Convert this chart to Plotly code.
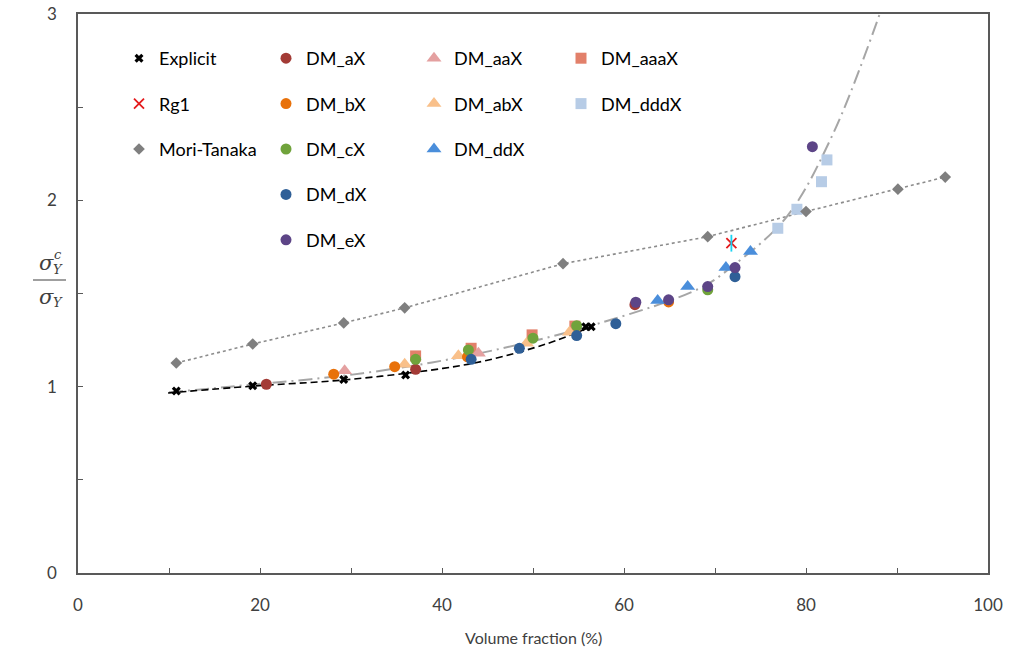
import plotly.graph_objects as go

# ---------------- data ----------------
explicit_x = [10.8, 19.2, 29.2, 36.0, 55.8, 56.4]
explicit_y = [0.977, 1.005, 1.038, 1.063, 1.322, 1.322]

rg1_x = [71.8]
rg1_y = [1.77]

mt_x = [10.8, 19.2, 29.2, 35.9, 53.3, 69.2, 80.0, 90.1, 95.3]
mt_y = [1.127, 1.229, 1.342, 1.423, 1.66, 1.805, 1.94, 2.06, 2.125]

dm_ax_x = [20.7, 37.1, 61.2]
dm_ax_y = [1.013, 1.093, 1.44]
dm_bx_x = [28.1, 34.8, 42.8, 64.9]
dm_bx_y = [1.067, 1.107, 1.16, 1.455]
dm_cx_x = [37.1, 42.9, 50.0, 54.8, 69.2]
dm_cx_y = [1.147, 1.197, 1.26, 1.327, 1.52]
dm_dx_x = [43.2, 48.5, 54.8, 59.1, 72.2]
dm_dx_y = [1.147, 1.206, 1.274, 1.338, 1.59]
dm_ex_x = [61.3, 64.9, 69.2, 72.2, 80.7]
dm_ex_y = [1.453, 1.466, 1.537, 1.639, 2.288]
dm_aax_x = [29.3, 44.0]
dm_aax_y = [1.086, 1.18]
dm_abx_x = [35.9, 41.8, 49.3, 54.0]
dm_abx_y = [1.12, 1.166, 1.233, 1.292]
dm_ddx_x = [63.7, 67.0, 71.2, 73.9]
dm_ddx_y = [1.462, 1.537, 1.639, 1.725]
dm_aaax_x = [37.1, 43.2, 49.9, 54.6]
dm_aaax_y = [1.165, 1.206, 1.278, 1.325]
dm_dddx_x = [76.9, 79.0, 81.7, 82.3]
dm_dddx_y = [1.85, 1.952, 2.1, 2.217]

# trend lines
explicit_trend_x = [9.9, 19.2, 29.2, 40.1, 45.0, 51.5, 56.4]
explicit_trend_y = [0.966, 1.003, 1.036, 1.098, 1.142, 1.23, 1.322]
dm_trend_x = [10.0, 16.7, 31.3, 44.2, 57.4, 68.4, 72.0, 77.9, 83.0, 88.1]
dm_trend_y = [0.97, 1.0, 1.072, 1.18, 1.342, 1.53, 1.65, 1.913, 2.36, 3.0]

x_ticks = [0, 20, 40, 60, 80, 100]
y_ticks = [0, 1, 2, 3]

FONT = "Lato"
fig = go.Figure()

# lines
fig.add_trace(go.Scatter(x=mt_x, y=mt_y, mode="lines", showlegend=False, hoverinfo="skip",
                         line=dict(color="#8C8C8C", width=1.6, dash="dot")))
fig.add_trace(go.Scatter(x=dm_trend_x, y=dm_trend_y, mode="lines", showlegend=False, hoverinfo="skip",
                         line=dict(color="#A6A6A6", width=2, dash="14px,5px,2px,5px", shape="spline")))
fig.add_trace(go.Scatter(x=explicit_trend_x, y=explicit_trend_y, mode="lines", showlegend=False,
                         hoverinfo="skip",
                         line=dict(color="#000000", width=1.6, dash="7px,4px", shape="spline")))


def add_pts(x, y, name, color, symbol, size, legend, line=None):
    fig.add_trace(go.Scatter(
        x=x, y=y, mode="markers", name=name, legend=legend, legendgroup=name,
        marker=dict(color=color, symbol=symbol, size=size,
                    line=line if line else dict(width=0))))


add_pts(dm_aaax_x, dm_aaax_y, "DM_aaaX", "#E2806A", "square", 11, "legend4")
add_pts(dm_aax_x, dm_aax_y, "DM_aaX", "#E4A0A0", "triangle-up", 13, "legend3")
add_pts(dm_abx_x, dm_abx_y, "DM_abX", "#F9C08A", "triangle-up", 13, "legend3")
add_pts(dm_ax_x, dm_ax_y, "DM_aX", "#A33B36", "circle", 11, "legend2")
add_pts(dm_bx_x, dm_bx_y, "DM_bX", "#E8710A", "circle", 11, "legend2")
add_pts(dm_cx_x, dm_cx_y, "DM_cX", "#70A33B", "circle", 11, "legend2")
add_pts(dm_dx_x, dm_dx_y, "DM_dX", "#2F5F97", "circle", 11, "legend2")
add_pts(dm_ddx_x, dm_ddx_y, "DM_ddX", "#4A8EDB", "triangle-up", 13, "legend3")
add_pts(dm_dddx_x, dm_dddx_y, "DM_dddX", "#B7CCE6", "square", 11, "legend4")
add_pts(dm_ex_x, dm_ex_y, "DM_eX", "#5D4587", "circle", 11, "legend2")
add_pts(explicit_x, explicit_y, "Explicit", "#000000", "x", 8, "legend")
add_pts(rg1_x, rg1_y, "Rg1", "#E41A1C", "x-thin-open", 10, "legend",
        line=dict(color="#E41A1C", width=1.8))
fig.add_trace(go.Scatter(x=rg1_x, y=rg1_y, mode="markers", showlegend=False, legendgroup="Rg1",
                         marker=dict(symbol="line-ns-open", size=12,
                                     line=dict(color="#E41A1C", width=1.8))))
add_pts(mt_x, mt_y, "Mori-Tanaka", "#7F7F7F", "diamond", 9, "legend")

L, R, T, B = 78, 25, 14, 86
W, H = 1013, 659
pw, ph = W - L - R, H - T - B


def px2x(px):
    return (px - L) / pw


def py2y(py):
    return (H - B - py) / ph


leg_common = dict(bgcolor="rgba(0,0,0,0)", font=dict(family=FONT, size=18, color="#000000"),
                  tracegroupgap=19, itemwidth=30, yanchor="top", xanchor="left",
                  y=py2y(40), orientation="v")
fig.update_layout(
    legend=dict(x=px2x(119), **leg_common),
    legend2=dict(x=px2x(266), **leg_common),
    legend3=dict(x=px2x(414), **leg_common),
    legend4=dict(x=px2x(561), **leg_common),
)

axis_common = dict(showgrid=False, zeroline=False, showline=True, linecolor="#595959",
                   linewidth=1.5, mirror=True, ticks="inside", ticklen=5, tickcolor="#595959",
                   tickwidth=1, automargin=False,
                   tickfont=dict(family=FONT, size=17, color="#404040"))
fig.update_xaxes(range=[0, 100], tickvals=x_ticks, ticklabelstandoff=16,
                 minor=dict(dtick=10, ticks="inside", ticklen=5, tickcolor="#595959"),
                 **axis_common)
fig.update_yaxes(range=[0, 3], tickvals=y_ticks, ticklabelstandoff=16,
                 minor=dict(dtick=0.5, ticks="inside", ticklen=5, tickcolor="#595959"),
                 **axis_common)

serif = "DejaVu Serif"
ann = [
    dict(x=0.5, y=py2y(637), text="Volume fraction (%)",
         font=dict(family=FONT, size=16, color="#404040")),
    dict(x=px2x(46), y=py2y(263), text="<i>σ</i>", font=dict(family=serif, size=21, color="#404040")),
    dict(x=px2x(58), y=py2y(254), text="<i>c</i>", font=dict(family=serif, size=13, color="#404040")),
    dict(x=px2x(58), y=py2y(269), text="<i>Y</i>", font=dict(family=serif, size=13, color="#404040")),
    dict(x=px2x(46), y=py2y(297), text="<i>σ</i>", font=dict(family=serif, size=21, color="#404040")),
    dict(x=px2x(58), y=py2y(303), text="<i>Y</i>", font=dict(family=serif, size=13, color="#404040")),
]
for a in ann:
    a.update(xref="paper", yref="paper", showarrow=False, xanchor="center", yanchor="middle")

fig.update_layout(
    width=W, height=H, margin=dict(l=L, r=R, t=T, b=B, autoexpand=False),
    paper_bgcolor="white", plot_bgcolor="white",
    annotations=ann,
    shapes=[dict(type="line", xref="paper", yref="paper", x0=px2x(33), x1=px2x(66),
                 y0=py2y(280), y1=py2y(280), line=dict(color="#404040", width=1.2))],
)

fig.write_html("out.html")
